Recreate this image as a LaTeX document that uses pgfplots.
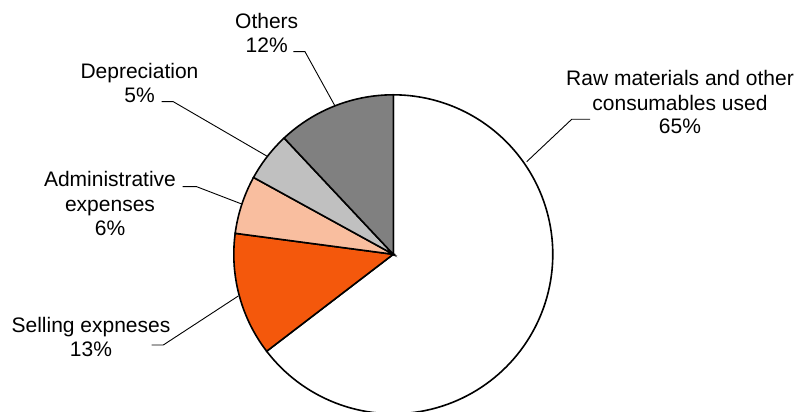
\documentclass[border=0pt]{standalone}
\usepackage{pgfplots}
\pgfplotsset{compat=1.18}
\usepackage{pgfplotstable}
\usepackage{fontspec}
\setmainfont{Liberation Sans}
\definecolor{sell}{HTML}{F4580C}
\definecolor{admin}{HTML}{F9BE9F}
\definecolor{depr}{HTML}{C0C0C0}
\definecolor{oth}{HTML}{808080}
\pgfplotstableread{
item value
Raw 64.6
Selling 12.5
Admin 5.9
Depreciation 5.0
Others 12.0
}\costs
\tikzset{lbl/.style={font=\fontsize{21bp}{24.5bp}\selectfont, inner sep=0pt, anchor=base}}
\begin{document}
\begin{tikzpicture}
\pgfplotstablegetelem{0}{value}\of\costs \let\vA\pgfplotsretval
\pgfplotstablegetelem{1}{value}\of\costs \let\vB\pgfplotsretval
\pgfplotstablegetelem{2}{value}\of\costs \let\vC\pgfplotsretval
\pgfplotstablegetelem{3}{value}\of\costs \let\vD\pgfplotsretval
\pgfplotstablegetelem{4}{value}\of\costs \let\vE\pgfplotsretval
\pgfmathsetmacro{\aA}{90}
\pgfmathsetmacro{\aB}{\aA-3.6*\vA}
\pgfmathsetmacro{\aC}{\aB-3.6*\vB}
\pgfmathsetmacro{\aD}{\aC-3.6*\vC}
\pgfmathsetmacro{\aE}{\aD-3.6*\vD}
\pgfmathsetmacro{\aF}{\aE-3.6*\vE}
\def\cx{393.3}\def\cy{157.7}\def\pr{159.5}
\begin{axis}[hide axis, x=1bp, y=1bp, xmin=0, xmax=806, ymin=0, ymax=412,
  anchor=origin, at={(0,0)}, clip=false]
\addplot[draw=black, line width=1.6bp, fill=white, domain=\aB:\aA, samples=120]
  ({\cx+\pr*cos(x)},{\cy+\pr*sin(x)}) -- (axis cs:\cx,\cy) -- cycle;
\addplot[draw=black, line width=1.6bp, fill=sell, domain=\aC:\aB, samples=40]
  ({\cx+\pr*cos(x)},{\cy+\pr*sin(x)}) -- (axis cs:\cx,\cy) -- cycle;
\addplot[draw=black, line width=1.6bp, fill=admin, domain=\aD:\aC, samples=30]
  ({\cx+\pr*cos(x)},{\cy+\pr*sin(x)}) -- (axis cs:\cx,\cy) -- cycle;
\addplot[draw=black, line width=1.6bp, fill=depr, domain=\aE:\aD, samples=30]
  ({\cx+\pr*cos(x)},{\cy+\pr*sin(x)}) -- (axis cs:\cx,\cy) -- cycle;
\addplot[draw=black, line width=1.6bp, fill=oth, domain=\aF:\aE, samples=40]
  ({\cx+\pr*cos(x)},{\cy+\pr*sin(x)}) -- (axis cs:\cx,\cy) -- cycle;
% leader lines
\addplot[black, line width=0.9bp] coordinates {(293.3,360.3) (305,360.3) (335,306)};
\addplot[black, line width=0.9bp] coordinates {(161.7,310.3) (173.3,310.3) (266.7,256)};
\addplot[black, line width=0.9bp] coordinates {(182.7,225.3) (196.7,225.3) (241.7,208)};
\addplot[black, line width=0.9bp] coordinates {(151.7,67) (163.3,67) (238.3,116)};
\addplot[black, line width=0.9bp] coordinates {(590,292.7) (571.7,292.7) (526.7,250.3)};
% labels
\node[lbl] at (axis cs:266.7,383.7) {Others};
\node[lbl] at (axis cs:266.7,359.7) {12\%};
\node[lbl] at (axis cs:139.5,333.7) {Depreciation};
\node[lbl] at (axis cs:139.5,309.7) {5\%};
\node[lbl] at (axis cs:110,225.3) {Administrative};
\node[lbl] at (axis cs:110,200.3) {expenses};
\node[lbl] at (axis cs:110,176.3) {6\%};
\node[lbl] at (axis cs:91,79.3) {Selling expneses};
\node[lbl] at (axis cs:91,55.3) {13\%};
\node[lbl] at (axis cs:680,327) {Raw materials and other};
\node[lbl] at (axis cs:680,302) {consumables used};
\node[lbl] at (axis cs:680,278.7) {65\%};
\end{axis}
\pgfresetboundingbox
\path[use as bounding box] (0,0) rectangle (806bp,412bp);
\end{tikzpicture}
\end{document}
